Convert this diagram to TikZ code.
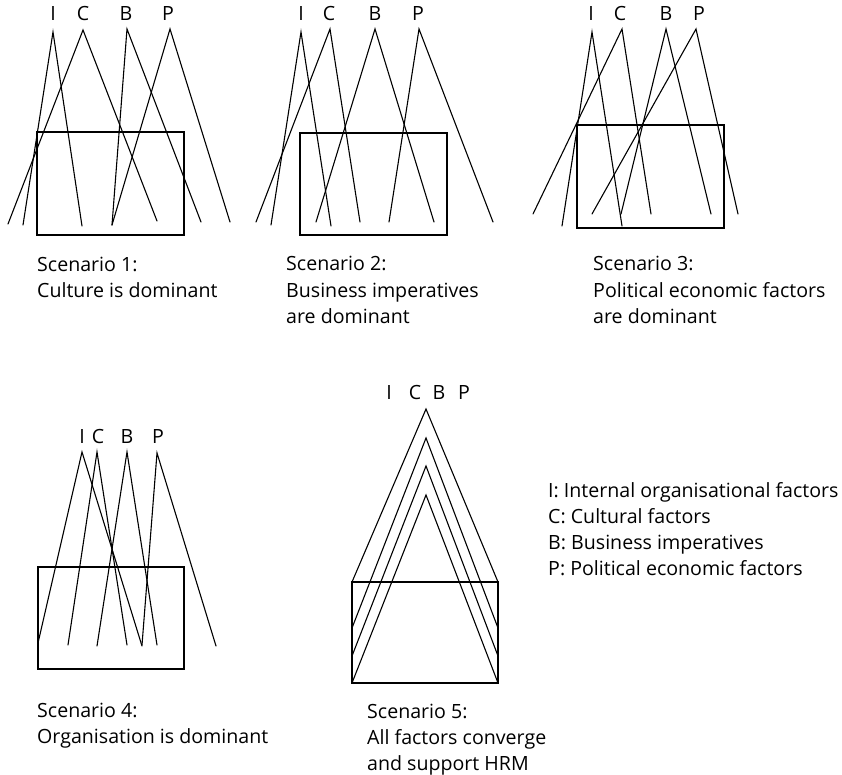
\documentclass[tikz,border=0pt]{standalone}
\usepackage{fontspec}
\setmainfont{Open Sans}
\begin{document}
\begin{tikzpicture}[x=1pt,y=-1pt,
  ln/.style={line width=1.1pt, line cap=round},
  box/.style={line width=1.2pt},
  letter/.style={font=\fontsize{19.6}{26}\selectfont, inner sep=0pt, anchor=base},
  captxt/.style={font=\fontsize{19.6}{26}\selectfont, inner sep=0pt, anchor=base west, align=left}]
\useasboundingbox (0,0) rectangle (842,775);

% ---------- Scenario 1 ----------
\node[letter] (l1I) at (53,21) {I};
\node[letter] (l1C) at (83,21) {C};
\node[letter] (l1B) at (126,21) {B};
\node[letter] (l1P) at (168,21) {P};
\coordinate (a1I) at (53,32); \coordinate (a1C) at (83,30);
\coordinate (a1B) at (127,29); \coordinate (a1P) at (170,29);
\coordinate (e1a) at (23,225); \coordinate (e1b) at (82,226);
\coordinate (e1c) at (8,224); \coordinate (e1d) at (157,221);
\coordinate (e1e) at (112,225); \coordinate (e1f) at (201,222);
\coordinate (e1g) at (230,222);
\draw[box] (37,132) rectangle (184,235);
\draw[ln] (e1a) -- (a1I) -- (e1b);
\draw[ln] (e1c) -- (a1C) -- (e1d);
\draw[ln] (e1e) -- (a1B) -- (e1f);
\draw[ln] (e1e) -- (a1P) -- (e1g);
\node[captxt] (cap1) at (37,298) {Scenario 1:\\Culture is dominant};

% ---------- Scenario 2 ----------
\node[letter] (l2I) at (301,21) {I};
\node[letter] (l2C) at (329,21) {C};
\node[letter] (l2B) at (375,21) {B};
\node[letter] (l2P) at (418,21) {P};
\coordinate (a2I) at (301,32); \coordinate (a2C) at (330,29);
\coordinate (a2B) at (375,29); \coordinate (a2P) at (419,29);
\coordinate (e2a) at (271,225); \coordinate (e2b) at (331,226);
\coordinate (e2c) at (256,222); \coordinate (e2d) at (360,222);
\coordinate (e2e) at (316,222); \coordinate (e2f) at (434,222);
\coordinate (e2g) at (389,222); \coordinate (e2h) at (493,222);
\draw[box] (300,133) rectangle (447,235);
\draw[ln] (e2a) -- (a2I) -- (e2b);
\draw[ln] (e2c) -- (a2C) -- (e2d);
\draw[ln] (e2e) -- (a2B) -- (e2f);
\draw[ln] (e2g) -- (a2P) -- (e2h);
\node[captxt] (cap2) at (286,323) {Scenario 2:\\Business imperatives\\are dominant};

% ---------- Scenario 3 ----------
\node[letter] (l3I) at (591,21) {I};
\node[letter] (l3C) at (620,21) {C};
\node[letter] (l3B) at (666,21) {B};
\node[letter] (l3P) at (699,21) {P};
\coordinate (a3I) at (592,32); \coordinate (a3C) at (622,29);
\coordinate (a3B) at (666,29); \coordinate (a3P) at (696,29);
\coordinate (e3a) at (562,226); \coordinate (e3b) at (622,226);
\coordinate (e3c) at (533,214); \coordinate (e3d) at (651,214);
\coordinate (e3e) at (621,214); \coordinate (e3f) at (711,214);
\coordinate (e3g) at (592,214); \coordinate (e3h) at (738,214);
\draw[box] (577,125) rectangle (724,228);
\draw[ln] (e3a) -- (a3I) -- (e3b);
\draw[ln] (e3c) -- (a3C) -- (e3d);
\draw[ln] (e3e) -- (a3B) -- (e3f);
\draw[ln] (e3g) -- (a3P) -- (e3h);
\node[captxt] (cap3) at (593,323) {Scenario 3:\\Political economic factors\\are dominant};

% ---------- Scenario 4 ----------
\node[letter] (l4I) at (82,443) {I};
\node[letter] (l4C) at (98,443) {C};
\node[letter] (l4B) at (127,443) {B};
\node[letter] (l4P) at (158,443) {P};
\coordinate (a4I) at (82,452); \coordinate (a4C) at (97,452);
\coordinate (a4B) at (127,452); \coordinate (a4P) at (157,453);
\coordinate (e4a) at (38,643); \coordinate (e4b) at (142,646);
\coordinate (e4c) at (68,645); \coordinate (e4d) at (127,645);
\coordinate (e4e) at (97,646); \coordinate (e4f) at (157,645);
\coordinate (e4g) at (142,645); \coordinate (e4h) at (216,646);
\draw[box] (38,567) rectangle (184,669);
\draw[ln] (e4a) -- (a4I) -- (e4b);
\draw[ln] (e4c) -- (a4C) -- (e4d);
\draw[ln] (e4e) -- (a4B) -- (e4f);
\draw[ln] (e4g) -- (a4P) -- (e4h);
\node[captxt] (cap4) at (37,743) {Scenario 4:\\Organisation is dominant};

% ---------- Scenario 5 ----------
\node[letter] (l5I) at (389,399) {I};
\node[letter] (l5C) at (415,399) {C};
\node[letter] (l5B) at (439,399) {B};
\node[letter] (l5P) at (464,399) {P};
\coordinate (a5a) at (426,409); \coordinate (a5b) at (426,438);
\coordinate (a5c) at (426,466); \coordinate (a5d) at (426,495);
\coordinate (L5a) at (352,582); \coordinate (R5a) at (498,582);
\coordinate (L5b) at (352,628); \coordinate (R5b) at (498,628);
\coordinate (L5c) at (352,656); \coordinate (R5c) at (498,656);
\coordinate (L5d) at (352,683); \coordinate (R5d) at (498,683);
\draw[box] (L5a) rectangle (R5d);
\draw[ln] (L5a) -- (a5a) -- (R5a);
\draw[ln] (L5b) -- (a5b) -- (R5b);
\draw[ln] (L5c) -- (a5c) -- (R5c);
\draw[ln] (L5d) -- (a5d) -- (R5d);
\node[captxt] (cap5) at (367,770) {Scenario 5:\\All factors converge\\and support HRM};

% ---------- Legend ----------
\node[captxt] (legend) at (548,575) {I: Internal organisational factors\\C: Cultural factors\\B: Business imperatives\\P: Political economic factors};
\end{tikzpicture}
\end{document}
